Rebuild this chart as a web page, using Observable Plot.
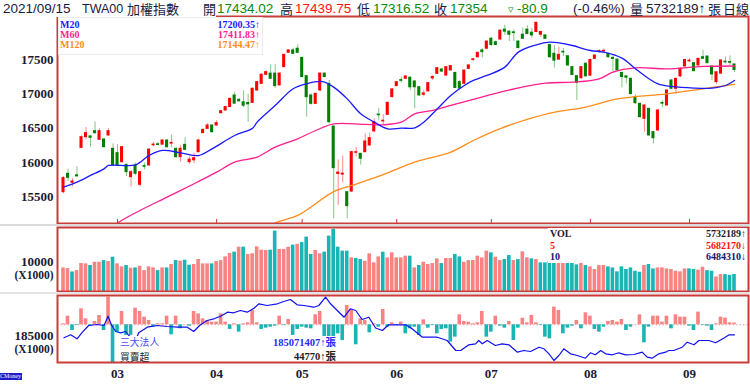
<!DOCTYPE html>
<html>
<head>
<meta charset="utf-8">
<script src="https://cdn.jsdelivr.net/npm/d3@7"></script>
<script src="https://cdn.jsdelivr.net/npm/@observablehq/plot@0.6"></script>
<style>
html,body{margin:0;padding:0;background:#fff;}
#wrap{position:relative;width:750px;height:391px;overflow:hidden;background:#fff;font-family:"Liberation Sans","Noto Sans CJK TC",sans-serif;color:#1a1a40;}
.abs{position:absolute;white-space:nowrap;}
.hd{font-size:13.5px;line-height:16px;}
.hdc{font-family:"Noto Sans CJK TC",sans-serif;font-size:13px;line-height:16px;}
.lg{font-family:"Liberation Serif","Noto Sans CJK TC",serif;font-weight:bold;font-size:10px;line-height:12px;}
.cj{font-family:"Noto Sans CJK TC",sans-serif;font-size:9.8px;line-height:11px;}
</style>
</head>
<body>
<div id="wrap"></div>
<script>
// ---------- data ----------
const monthLabels = ["03","04","05","06","07","08","09"];
const monthIdx = [12,34,53,74,95,117,139];
const yTicksMain = [15500,16000,16500,17000,17500];

const open = [15563,15832,15700,15810,16212,16369,16380,16457,16330,16335,16394,16198,16135,16003,15963,15783,15954,15671,15945,15954,16250,16265,16260,16320,16275,16198,16076,16256,16003,16030,16149,16428,16490,16540,16540,16720,16760,16810,16980,16915,16880,16870,16872,17053,17150,17283,17300,17300,17128,17395,17605,17640,17665,17530,17263,16980,16857,17053,17300,17150,16525,15830,15820,15563,15572,16140,16125,16149,16247,16453,16700,16600,16696,16955,17117,17205,17224,17240,17185,17100,16990,17040,17230,17297,17360,17272,17346,17310,17175,17150,17370,17500,17540,17640,17665,17810,17760,17800,17945,17915,17905,17770,17870,17945,17900,17910,17870,17860,17720,17590,17505,17620,17555,17395,17263,17233,17445,17270,17517,17620,17625,17590,17530,17505,17310,17260,17224,16955,16857,16638,16784,16442,16467,16870,16833,17200,17078,17258,17405,17480,17453,17420,17541,17550,17405,17175,17300,17475,17470,17434.02];
const high = [15790,15900,15760,15935,16390,16510,16390,16590,16490,16350,16490,16270,16260,16230,15975,15880,15990,15870,15990,16200,16290,16290,16330,16330,16400,16210,16250,16360,16080,16130,16340,16490,16570,16545,16610,16760,16820,16940,17030,16940,17050,17000,17090,17190,17300,17340,17430,17430,17310,17580,17650,17670,17720,17540,17270,17000,17010,17310,17310,17200,16530,16036,16090,15563,16160,16220,16130,16420,16430,16640,16790,16700,16880,17080,17185,17250,17270,17250,17200,17110,17060,17170,17270,17390,17380,17400,17420,17320,17200,17350,17430,17520,17610,17670,17780,17830,17780,17935,18010,17930,17940,17780,17970,18000,17960,18050,17920,17870,17730,17710,17690,17670,17560,17400,17270,17400,17460,17510,17570,17650,17660,17600,17560,17510,17320,17265,17230,16990,16870,16840,16790,16450,16770,16900,17060,17210,17230,17380,17505,17520,17460,17520,17640,17560,17410,17330,17500,17540,17560,17439.75];
const low = [15540,15720,15640,15780,16200,16330,16220,16410,16320,16215,16380,15940,15940,15990,15790,15637,15810,15640,15890,15950,16230,16240,16250,16210,16215,16060,16000,16170,15970,15980,16140,16420,16480,16430,16530,16710,16750,16800,16850,16880,16800,16590,16860,17040,17140,17270,17210,17080,17120,17390,17600,17580,17595,17240,16660,16840,16850,17040,17240,16560,15172,15367,15700,15172,15560,16080,15960,16140,16240,16440,16610,16540,16690,16950,17110,17160,17215,17050,16784,16970,16960,17030,17200,17290,17320,17260,17340,17080,17070,17140,17360,17480,17530,17530,17650,17700,17710,17790,17860,17770,17770,17660,17800,17870,17820,17900,17830,17800,17530,17380,17500,17550,17410,17270,16906,17220,17250,17260,17510,17600,17600,17530,17330,17340,17090,17150,16990,16850,16650,16442,16380,16270,16460,16800,16830,17070,17000,17250,17400,17460,17330,17410,17510,17450,17200,17140,17290,17440,17420,17316.52];
const close = [15769,15773,15720,15795,16369,16428,16359,16428,16457,16222,16457,15954,15954,16222,15856,15856,15832,15856,15935,16186,16260,16255,16320,16222,16285,16076,16198,16183,16040,16060,16320,16476,16540,16442,16574,16750,16810,16930,16860,16895,16830,16850,17078,17175,17283,17322,17225,17117,17300,17575,17640,17590,17605,17250,16955,16857,17004,17300,17250,16588,15915,15850,15835,15358,16150,16149,16052,16306,16355,16590,16690,16610,16872,17068,17175,17195,17258,17100,17100,16980,17010,17160,17250,17380,17330,17395,17410,17090,17080,17345,17420,17510,17605,17615,17770,17720,17720,17930,17915,17870,17895,17675,17810,17880,17860,18045,17910,17810,17540,17490,17575,17610,17420,17280,17166,17395,17260,17500,17565,17630,17635,17540,17515,17346,17250,17240,17000,16867,16662,16833,16394,16354,16760,16860,17053,17078,17224,17371,17500,17490,17336,17517,17517,17453,17288,17320,17493,17465,17460,17354];

// volume in (X1000)
const volume = [7960,7730,6600,7050,9430,9320,8760,9880,9880,10440,10110,11580,9320,8310,8760,7850,7960,8540,7050,8310,7960,7050,7960,7960,9110,10440,10230,10560,8870,9110,10790,9320,9320,9320,10110,10440,11700,12830,13280,14960,14960,12500,12720,15080,13950,13840,13950,20390,14190,14190,14960,15650,15890,16500,18360,12500,13840,12720,13280,18700,20970,14960,13620,13620,11350,11130,10790,10230,12720,9655,11690,13270,11350,13050,11350,11350,11920,11920,7960,8760,9880,9110,9430,11010,9430,11130,11130,12500,11690,9880,10440,10440,11920,11350,13620,13050,11580,10440,10790,12150,10440,10790,13390,11350,11010,10790,9655,9655,10200,9900,10500,9800,10100,9500,9000,10000,8760,8310,7420,8760,8760,8310,7960,6630,8310,7420,7960,6840,6500,8760,9110,7620,7960,7960,7620,7420,6840,6630,7620,7620,7420,7190,8190,7050,6840,4910,5700,5700,5480,5732];

// 三大法人 買賣超 (張)
const inst = [26000,225000,-147000,-17000,416000,156000,-43000,87000,243000,-147000,720000,-980000,-190000,347000,-277000,-277000,433000,347000,200000,113000,-61000,26000,26000,225000,-260000,225000,-104000,5000,-35000,347000,286000,156000,113000,69000,69000,286000,69000,-121000,26000,-191000,26000,52000,373000,52000,-121000,-87000,-61000,-35000,225000,-17000,139000,-277000,-121000,-61000,-87000,-104000,260000,347000,-321000,-350000,-400000,-234000,-408000,503000,399000,-520000,156000,113000,-208000,26000,-61000,399000,-61000,52000,-17000,69000,-234000,-104000,-61000,-277000,130000,-87000,-17000,-234000,-121000,-104000,-451000,-321000,260000,87000,69000,26000,52000,347000,-321000,-191000,225000,-35000,-87000,87000,-408000,-87000,173000,52000,243000,52000,-17000,-321000,-364000,460000,373000,-234000,-87000,-35000,113000,-104000,312000,225000,-121000,-191000,-61000,87000,113000,69000,139000,-147000,-61000,5000,260000,-468000,-61000,225000,225000,69000,225000,-104000,260000,200000,200000,-35000,-147000,330000,-17000,-35000,-147000,26000,200000,173000,52000,44770];

// 三大法人 line (X1000 張), read at day positions
const instLineIdx = [0.1,1.6,3.0,4.2,5.6,7.5,9.0,9.9,10.7,11.6,12.7,13.8,14.5,15.3,16.0,16.7,18.6,20.8,23.0,25.3,27.5,28.9,30.4,31.9,33.4,34.9,36.4,37.8,39.3,40.8,42.3,43.4,45.2,47.5,48.9,50.4,51.9,53.4,55.6,56.7,58.2,59.3,60.8,62.3,63.7,64.9,66.3,67.8,69.3,70.8,72.2,76.0,77.4,79.7,83.0,85.2,87.1,88.2,90.0,91.5,92.2,93.0,94.1,95.9,97.4,98.9,100.8,102.2,103.7,105.6,106.7,107.8,108.9,110.0,111.1,112.6,114.1,115.9,117.0,118.1,119.3,120.4,121.9,123.3,124.8,126.7,128.5,129.6,130.7,132.2,133.7,134.4,135.5,137.4,138.5,140.0,141.1,143.3,144.8,146.6,147.8,149.0];
const instLineVal = [184771,185071,184671,185331,186001,186101,186001,186931,186001,185401,185271,185401,185001,184731,184500,185271,185831,186001,185901,185831,185831,185401,186071,186501,186671,186931,187331,187271,187501,187331,187731,188171,188001,188171,188401,188601,188071,188001,187831,188001,188831,188171,187501,186831,187671,187501,186601,186831,185750,185501,186071,186071,185671,184831,184831,184501,183501,183501,184071,184171,184501,184171,184501,184001,184171,184071,183331,183501,183401,183831,183671,183171,182501,183001,183671,183171,183001,182731,183271,183071,183501,183171,183071,183271,183071,183101,183331,182831,182731,183171,183331,183501,183501,183831,184331,184071,184501,184501,184271,184731,185071,185071];

// moving averages
const m20Idx = [0,3,6,9,10,16,19,22,26,30,33,38,42,43,47,51,54,57,58,60,63,66,69,72,75,78,80,83,86,89,91,94,98,101,105,108,110,113,117,120,124,127,130,132,135,140,144,147,149];
const m20Val = [15637,15710,15808,15905,15954,15963,16100,16174,16140,16100,16198,16393,16500,16590,16833,17078,17151,17185,17175,17102,16930,16711,16589,16491,16501,16506,16589,16784,16980,17126,17200,17273,17395,17615,17722,17761,17751,17712,17639,17615,17527,17371,17224,17151,17112,17088,17088,17126,17200];
const m60Idx = [10,12,17,23,29,34,38,43,47,52,56,60,67,71,75,78,82,86,91,97,107,113,119,122,127,134,142,149];
const m60Val = [14990,15110,15295,15490,15686,15856,16003,16076,16223,16345,16467,16565,16555,16550,16589,16711,16760,16833,16921,17030,17160,17175,17224,17322,17385,17370,17405,17412];
const m120Idx = [45,47,52,60,64,71,78,86,91,97,108,116,123,134,142,149];
const m120Val = [14990,15110,15222,15570,15661,15820,16003,16150,16320,16495,16720,16810,16930,17004,17078,17144];

// ---------- build ----------
const N = close.length;
const days = d3.range(N).map(i => ({
  i, o: open[i], h: high[i], l: low[i], c: close[i],
  up: close[i] >= open[i],
  vUp: i === 0 ? close[0] >= open[0] : close[i] >= close[i - 1],
  v: volume[i], n: inst[i]
}));
const m20 = m20Idx.map((d, k) => ({i: d, v: m20Val[k]}));
const m60 = m60Idx.map((d, k) => ({i: d, v: m60Val[k]}));
const m120 = m120Idx.map((d, k) => ({i: d, v: m120Val[k]}));
const instLine = instLineIdx.map((d, k) => ({i: d, v: instLineVal[k]}));

const FRAME = "#c83c3c";
const UP = "#ff0000", DN = "#008000", UPW = "#ff8a8a", DNW = "#84c684";
const VUP = "#f98383", VDN = "#19b5b5";
const xOpt = {domain: [0, N - 1], range: [63, 734]};
const baseStyle = {background: "transparent", fontFamily: "'Liberation Serif', serif", fontWeight: "bold", fontSize: "13px", color: "#1a1a33", overflow: "visible"};
const wrap = document.getElementById("wrap");

function addPlot(svg, top) {
  const d = document.createElement("div");
  d.className = "abs"; d.style.left = "0px"; d.style.top = top + "px";
  d.appendChild(svg); wrap.appendChild(d);
}
function addBox(left, top, w, h, bg, border) {
  const d = document.createElement("div");
  d.className = "abs";
  Object.assign(d.style, {left: left + "px", top: top + "px", width: w + "px", height: h + "px", background: bg});
  if (border) d.style.border = border;
  wrap.appendChild(d); return d;
}
function addText(txt, left, top, cls, color, right) {
  const s = document.createElement("div");
  s.className = "abs " + cls; s.textContent = txt;
  s.style.top = top + "px";
  if (right) s.style.right = (750 - left) + "px"; else s.style.left = left + "px";
  if (color) s.style.color = color;
  wrap.appendChild(s); return s;
}

const yMain = [15104, 18137];
// main price panel
addPlot(Plot.plot({
  width: 750, height: 209, marginTop: 1, marginBottom: 1, marginLeft: 57, marginRight: 2,
  style: baseStyle,
  x: {...xOpt, axis: null},
  y: {domain: yMain, ticks: yTicksMain, tickFormat: "d", tickSize: 0, tickPadding: 4, label: null},
  marks: [
    Plot.ruleX(monthIdx, {x: d => d, y1: yMain[0], y2: yMain[0] + 60, stroke: FRAME}),
    Plot.ruleX(days, {x: "i", y1: "l", y2: "h", stroke: d => d.up ? UPW : DNW, strokeWidth: 1}),
    Plot.rect(days, {x1: d => d.i - 0.34, x2: d => d.i + 0.34, y1: "o", y2: "c", fill: d => d.up ? UP : DN, insetTop: -0.5, insetBottom: -0.5}),
    Plot.line(m120, {x: "i", y: "v", stroke: "#ff8c1a", strokeWidth: 1.3, curve: "catmull-rom", clip: true}),
    Plot.line(m60, {x: "i", y: "v", stroke: "#ff1e8c", strokeWidth: 1.3, curve: "catmull-rom", clip: true}),
    Plot.line(m20, {x: "i", y: "v", stroke: "#1a1aff", strokeWidth: 1.3, curve: "catmull-rom", clip: true}),
    Plot.frame({stroke: FRAME, strokeWidth: 2})
  ]
}), 15);

// volume panel
addPlot(Plot.plot({
  width: 750, height: 66, marginTop: 1, marginBottom: 1, marginLeft: 57, marginRight: 2,
  style: baseStyle,
  x: {...xOpt, axis: null},
  y: {domain: [0, 21600], ticks: [10000], tickFormat: "d", tickSize: 0, tickPadding: 4, label: null},
  marks: [
    Plot.rect(days, {x1: d => d.i - 0.4, x2: d => d.i + 0.4, y1: 0, y2: "v", fill: d => d.vUp ? VUP : VDN}),
    Plot.text([{t: "(X1000)", y: 10000}], {frameAnchor: "left", y: "y", text: "t", dx: -4, dy: 13.5, textAnchor: "end", fontSize: 11.5}),
    Plot.frame({stroke: FRAME, strokeWidth: 2})
  ]
}), 226);

// institutional bars
addPlot(Plot.plot({
  width: 750, height: 91, marginTop: 1, marginBottom: 23, marginLeft: 57, marginRight: 2,
  style: baseStyle,
  x: {...xOpt, axis: null},
  y: {domain: [-980000, 762000], axis: null},
  marks: [
    Plot.ruleY([0], {stroke: "#f09a9a", strokeDasharray: "1.5,2"}),
    Plot.rect(days, {x1: d => d.i - 0.4, x2: d => d.i + 0.4, y1: 0, y2: "n", fill: d => d.n >= 0 ? VUP : VDN, clip: true}),
    Plot.frame({stroke: FRAME, strokeWidth: 2})
  ]
}), 294);

// institutional cumulative line + month axis
addPlot(Plot.plot({
  width: 750, height: 91, marginTop: 1, marginBottom: 23, marginLeft: 57, marginRight: 2,
  style: baseStyle,
  x: {...xOpt, ticks: monthIdx, tickFormat: d => monthLabels[monthIdx.indexOf(d)], tickSize: 0, tickPadding: 6, label: null, fontSize: 12},
  y: {domain: [182301, 189001], ticks: [185000], tickFormat: "d", tickSize: 0, tickPadding: 4, label: null},
  marks: [
    Plot.line(instLine, {x: "i", y: "v", stroke: "#1010f0", strokeWidth: 1.2, clip: true}),
    Plot.text([{t: "(X1000)", y: 185000}], {frameAnchor: "left", y: "y", text: "t", dx: -4, dy: 13.5, textAnchor: "end", fontSize: 11.5})
  ]
}), 294);

// separators
addBox(0, 224, 750, 2, "#dcdcdc");
addBox(0, 292, 750, 2, "#e4e4e4");

// header
addBox(0, 0, 216, 17, "#fff");
const hdTop = 1;
addText("2021/09/15", 3, hdTop, "hd");
const twa = addText("TWA00", 82, hdTop, "hd"); twa.style.fontSize = "12.5px";
addText("加權指數", 127, hdTop, "hdc");
addText("開", 203, hdTop, "hdc");
addText("17434.02", 217, hdTop, "hd", "#0a8a0a");
addText("高", 280, hdTop, "hdc");
addText("17439.75", 295, hdTop, "hd", "#ff1010");
addText("低", 357, hdTop, "hdc");
addText("17316.52", 373, hdTop, "hd", "#0a8a0a");
addText("收", 434, hdTop, "hdc");
addText("17354", 450, hdTop, "hd", "#0a8a0a");
const tri = addText("▿", 508, hdTop + 1, "hd", "#0a8a0a"); tri.style.fontSize = "11px"; tri.style.fontFamily = "DejaVu Sans";
addText("-80.9", 517, hdTop, "hd", "#0a8a0a");
addText("(-0.46%)", 573, hdTop, "hd");
addText("量", 630, hdTop, "hdc");
addText("5732189↑", 646, hdTop, "hd");
addText("張", 708, hdTop, "hdc");
addText("日線", 723, hdTop, "hdc");

// MA legend
addBox(58, 17, 203, 36, "rgba(255,255,255,0.93)", "1px solid #ececec");
addText("M20", 60, 19, "lg", "#1a1aff");
addText("17200.35↑", 260, 19, "lg", "#1a1aff", true);
addText("M60", 60, 29, "lg", "#ff1e8c");
addText("17411.83↑", 260, 29, "lg", "#ff1e8c", true);
addText("M120", 60, 38.5, "lg", "#ff8c1a");
addText("17144.47↑", 260, 38.5, "lg", "#ff8c1a", true);

// volume legend
addBox(548, 228, 199, 35, "rgba(255,255,255,0.96)");
addText("VOL", 550, 227.5, "lg", "#1a1a33");
addText("5732189↑", 746, 227.5, "lg", "#1a1a33", true);
addText("5", 550, 239.7, "lg", "#ff1010");
addText("5682170↓", 746, 239.7, "lg", "#ff1010", true);
addText("10", 550, 251.3, "lg", "#14146e");
addText("6484310↓", 746, 251.3, "lg", "#14146e", true);

// institutional legend
addBox(117, 336, 220, 25, "rgba(255,255,255,0.96)");
addText("三大法人", 120, 337.3, "cj", "#4b4bff");
const iv = addText("185071407↑張", 336, 337, "lg", "#2a2aff", true); iv.style.fontSize = "10.5px";
addText("買賣超", 120, 351.5, "cj", "#222");
const iv2 = addText("44770↑張", 336, 350.5, "lg", "#222", true); iv2.style.fontSize = "10.5px";

// logo
const logo = addBox(0, 373, 22, 7, "#1c1cc8");
logo.style.color = "#fff"; logo.style.fontSize = "6px"; logo.style.lineHeight = "7px"; logo.style.fontFamily = "Liberation Serif"; logo.style.overflow = "hidden";
logo.textContent = "CMoney";
</script>
</body>
</html>
